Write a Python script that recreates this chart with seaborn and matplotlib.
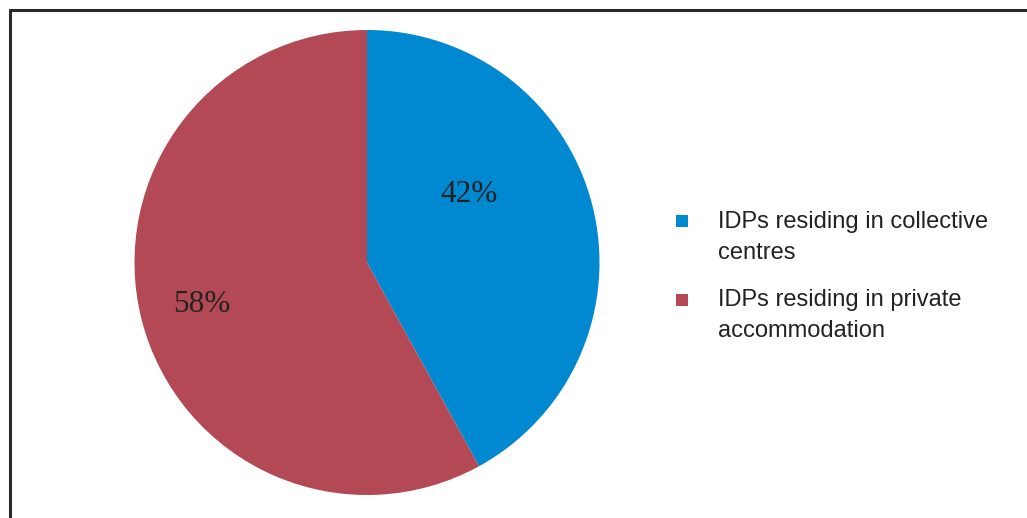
import matplotlib
matplotlib.use("Agg")
import matplotlib.pyplot as plt
from matplotlib.lines import Line2D
from matplotlib.patches import Rectangle
import seaborn as sns

sns.set_theme(style="white")

categories = ["IDPs residing in collective\ncentres",
              "IDPs residing in private\naccommodation"]
shares = [42, 58]
colors = ["#0088D1", "#B34954"]
# label baseline anchor points (pie data units)
label_pos = [(0.439, 0.260), (-0.710, -0.213)]

W, H = 1027, 518
fig = plt.figure(figsize=(W / 100, H / 100), dpi=100)
fig.patch.set_facecolor("white")

cx, cy, r = 367, 262.5, 232.5
ax = fig.add_axes([(cx - r) / W, (H - cy - r) / H, 2 * r / W, 2 * r / H])
ax.pie(shares, colors=colors, startangle=90, counterclock=False,
       wedgeprops=dict(linewidth=0))
ax.set_xlim(-1, 1)
ax.set_ylim(-1, 1)
ax.set_aspect("equal")
ax.axis("off")

for v, (x, y) in zip(shares, label_pos):
    ax.text(x, y, f"{v}%", ha="center", va="baseline", fontsize=22.5,
            family="Liberation Serif", color="#222222")

# legend: square markers aligned with the first text line;
# text is anchored on the baseline of its last line
leg_x_box, leg_x_txt = 676, 718
marker_y = [221, 300]
text_baseline = [259, 337]
sq = 12
for c, lab, my, ty in zip(colors, categories, marker_y, text_baseline):
    fig.add_artist(Rectangle((leg_x_box / W, (H - my - sq / 2) / H), sq / W, sq / H,
                             transform=fig.transFigure, facecolor=c, edgecolor="none"))
    fig.text(leg_x_txt / W, (H - ty) / H, lab, ha="left", va="baseline",
             fontsize=17.0, family="Liberation Sans", color="#222222",
             linespacing=1.53)

# frame lines along top and left edges
fig.add_artist(Line2D([8.5 / W, 1.0], [1 - 9.8 / H, 1 - 9.8 / H],
                      transform=fig.transFigure, color="#2a2a2a", linewidth=2.2,
                      solid_capstyle="butt"))
fig.add_artist(Line2D([9.8 / W, 9.8 / W], [0, 1 - 8.5 / H],
                      transform=fig.transFigure, color="#2a2a2a", linewidth=2.2,
                      solid_capstyle="butt"))

fig.savefig("out.png", dpi=100, facecolor="white")
